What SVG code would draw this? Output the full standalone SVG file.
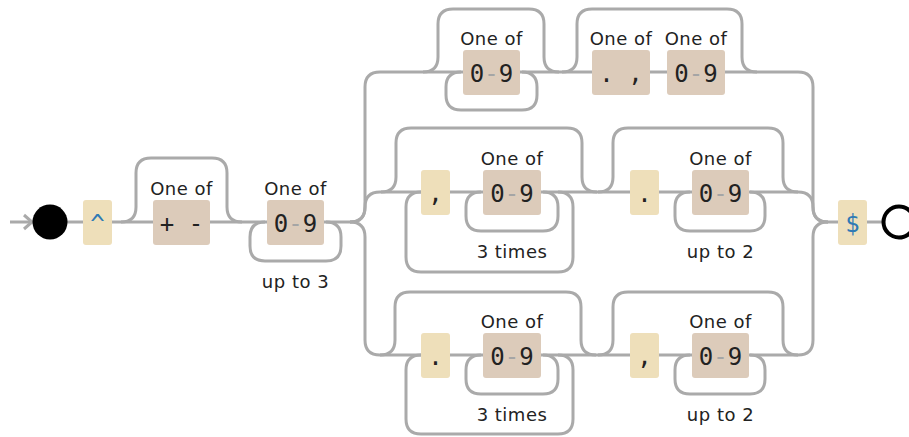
<svg xmlns="http://www.w3.org/2000/svg" width="909" height="437" viewBox="0 0 909 437">
  <style>
    .conn path { fill: none; stroke: #aaaaaa; stroke-width: 3; }
    .lit rect { fill: #eedfba; }
    .cs rect { fill: #dccbba; }
    .mono { font-family: "DejaVu Sans Mono", "Liberation Mono", monospace; font-size: 24px; fill: #222; text-anchor: middle; }
    .anchor { fill: #2f7ab5; }
    .sep { fill: #a5a5a5; }
    .lbl { font-family: "DejaVu Sans", "Liberation Sans", sans-serif; font-size: 18px; letter-spacing: 0.5px; fill: #222; text-anchor: middle; }
  </style>

  <!-- connectors -->
  <g id="connectors" class="conn">
    <!-- main axis -->
    <path d="M10,222 H350"/>
    <path d="M24,215 L32,222 L24,229"/>
    <path d="M828,222 H884"/>
    <!-- optional sign -->
    <path d="M121,222 q15,0 15,-15 V173 q0,-15 15,-15 H212 q15,0 15,15 V207 q0,15 15,15"/>
    <!-- leading digits loop -->
    <path d="M265,222 q-15,0 -15,15 V246 q0,15 15,15 H326 q15,0 15,-15 V237 q0,-15 -15,-15"/>

    <!-- alternation entry -->
    <path d="M350,222 q15,0 15,-15 V87 q0,-15 15,-15"/>
    <path d="M350,222 q15,0 15,-15 q0,-15 15,-15"/>
    <path d="M350,222 q15,0 15,15 V340 q0,15 15,15"/>
    <!-- alternation exit -->
    <path d="M798,72 q15,0 15,15 V207 q0,15 15,15"/>
    <path d="M798,192 q15,0 15,15 q0,15 15,15"/>
    <path d="M798,355 q15,0 15,-15 V237 q0,-15 15,-15"/>

    <!-- top branch -->
    <path d="M380,72 H798"/>
    <path d="M423,72 q15,0 15,-15 V24 q0,-15 15,-15 H529 q15,0 15,15 V57 q0,15 15,15"/>
    <path d="M461,72 q-15,0 -15,15 V95 q0,15 15,15 H522 q15,0 15,-15 V87 q0,-15 -15,-15"/>
    <path d="M562,72 q15,0 15,-15 V24 q0,-15 15,-15 H727 q15,0 15,15 V57 q0,15 15,15"/>

    <!-- middle branch -->
    <path d="M380,192 H798"/>
    <path d="M381,192 q15,0 15,-15 V143 q0,-15 15,-15 H567 q15,0 15,15 V177 q0,15 15,15"/>
    <path d="M421,192 q-15,0 -15,15 V257 q0,15 15,15 H558 q15,0 15,-15 V207 q0,-15 -15,-15"/>
    <path d="M481,192 q-15,0 -15,15 V216 q0,15 15,15 H543 q15,0 15,-15 V207 q0,-15 -15,-15"/>
    <path d="M598,192 q15,0 15,-15 V143 q0,-15 15,-15 H768 q15,0 15,15 V177 q0,15 15,15"/>
    <path d="M690,192 q-15,0 -15,15 V216 q0,15 15,15 H750 q15,0 15,-15 V207 q0,-15 -15,-15"/>

    <!-- bottom branch -->
    <path d="M380,355 H798"/>
    <path d="M380,355 q15,0 15,-15 V307 q0,-15 15,-15 H566 q15,0 15,15 V340 q0,15 15,15"/>
    <path d="M421,355 q-15,0 -15,15 V419 q0,15 15,15 H558 q15,0 15,-15 V370 q0,-15 -15,-15"/>
    <path d="M481,355 q-15,0 -15,15 V379 q0,15 15,15 H543 q15,0 15,-15 V370 q0,-15 -15,-15"/>
    <path d="M598,355 q15,0 15,-15 V307 q0,-15 15,-15 H768 q15,0 15,15 V340 q0,15 15,15"/>
    <path d="M690,355 q-15,0 -15,15 V379 q0,15 15,15 H750 q15,0 15,-15 V370 q0,-15 -15,-15"/>
  </g>

  <!-- start / end -->
  <g id="start"><circle cx="50" cy="222" r="17.5" fill="#000"/></g>
  <g id="end"><circle cx="899" cy="222" r="15.5" fill="#fff" stroke="#000" stroke-width="4"/></g>

  <!-- main line nodes -->
  <g id="caret" class="lit"><rect x="83" y="200" width="29" height="45" rx="3"/><text class="mono anchor" x="97.5" y="232">^</text></g>
  <g id="sign" class="cs"><text class="lbl" x="181.5" y="195">One of</text><rect x="153" y="200" width="57" height="45" rx="3"/><text class="mono" x="181.5" y="232">+ -</text></g>
  <g id="int-digits" class="cs"><text class="lbl" x="295.5" y="195">One of</text><rect x="267" y="200" width="57" height="45" rx="3"/><text class="mono" x="295.5" y="232">0<tspan class="sep">-</tspan>9</text><text class="lbl" x="295.5" y="288">up to 3</text></g>

  <!-- top branch nodes -->
  <g id="top-digits" class="cs"><text class="lbl" x="491.5" y="45">One of</text><rect x="463" y="50" width="57" height="45" rx="3"/><text class="mono" x="491.5" y="82">0<tspan class="sep">-</tspan>9</text></g>
  <g id="top-sep" class="cs"><text class="lbl" x="621" y="45">One of</text><rect x="592" y="50" width="58" height="45" rx="3"/><text class="mono" x="621" y="82">. ,</text></g>
  <g id="top-frac" class="cs"><text class="lbl" x="696" y="45">One of</text><rect x="667" y="50" width="58" height="45" rx="3"/><text class="mono" x="696" y="82">0<tspan class="sep">-</tspan>9</text></g>

  <!-- middle branch nodes -->
  <g id="mid-comma" class="lit"><rect x="421" y="170" width="29" height="45" rx="3"/><text class="mono" x="435.5" y="202">,</text></g>
  <g id="mid-group" class="cs"><text class="lbl" x="512" y="165">One of</text><rect x="483" y="170" width="58" height="45" rx="3"/><text class="mono" x="512" y="202">0<tspan class="sep">-</tspan>9</text><text class="lbl" x="512" y="258">3 times</text></g>
  <g id="mid-dot" class="lit"><rect x="630" y="170" width="29" height="45" rx="3"/><text class="mono" x="644.5" y="202">.</text></g>
  <g id="mid-frac" class="cs"><text class="lbl" x="720.5" y="165">One of</text><rect x="692" y="170" width="57" height="45" rx="3"/><text class="mono" x="720.5" y="202">0<tspan class="sep">-</tspan>9</text><text class="lbl" x="720.5" y="258">up to 2</text></g>

  <!-- bottom branch nodes -->
  <g id="bot-dot" class="lit"><rect x="421" y="333" width="29" height="45" rx="3"/><text class="mono" x="435.5" y="365">.</text></g>
  <g id="bot-group" class="cs"><text class="lbl" x="512" y="328">One of</text><rect x="483" y="333" width="58" height="45" rx="3"/><text class="mono" x="512" y="365">0<tspan class="sep">-</tspan>9</text><text class="lbl" x="512" y="421">3 times</text></g>
  <g id="bot-comma" class="lit"><rect x="630" y="333" width="29" height="45" rx="3"/><text class="mono" x="644.5" y="365">,</text></g>
  <g id="bot-frac" class="cs"><text class="lbl" x="720.5" y="328">One of</text><rect x="692" y="333" width="57" height="45" rx="3"/><text class="mono" x="720.5" y="365">0<tspan class="sep">-</tspan>9</text><text class="lbl" x="720.5" y="421">up to 2</text></g>

  <!-- end anchor -->
  <g id="dollar" class="lit"><rect x="838" y="200" width="29" height="45" rx="3"/><text class="mono anchor" x="852.5" y="232">$</text></g>
</svg>
